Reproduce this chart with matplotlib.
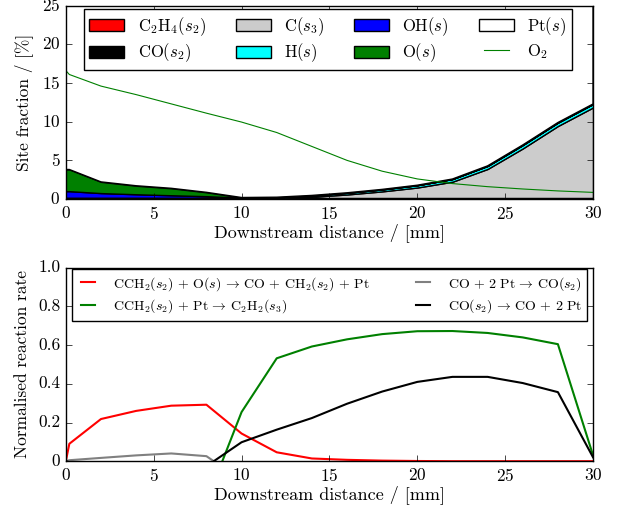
import numpy as np
import matplotlib
matplotlib.use('Agg')
from matplotlib import pyplot as plt
from matplotlib.patches import Patch
from matplotlib.lines import Line2D

plt.style.use('classic')
plt.rcParams['font.family'] = 'serif'
plt.rcParams['font.serif'] = ['cmr10', 'DejaVu Serif']
plt.rcParams['mathtext.fontset'] = 'cm'
plt.rcParams['axes.unicode_minus'] = False
plt.rcParams['axes.formatter.use_mathtext'] = True

# distance along the channel [mm]
dist = [0, 0.2, 2, 4, 6, 8, 10, 12, 14, 16, 18, 20, 22, 24, 26, 28, 30]

# surface coverages [%]
c2h4_s2 = [0.02] * 17
co_s2 = [0.15, 0.15, 0.15, 0.15, 0.15, 0.15, 0.12, 0.12, 0.12, 0.12, 0.12, 0.12, 0.12, 0.12, 0.12, 0.12, 0.12]
c_s3 = [0, 0, 0, 0, 0, 0, 0, 0.0, 0.15, 0.45, 0.85, 1.35, 2.1, 3.75, 6.4, 9.3, 11.7]
h_s = [0, 0, 0, 0, 0, 0, 0.02, 0.1, 0.18, 0.22, 0.26, 0.3, 0.35, 0.4, 0.45, 0.45, 0.45]
oh_s = [0.85, 0.85, 0.6, 0.45, 0.32, 0.2, 0.02, 0, 0, 0, 0, 0, 0, 0, 0, 0, 0]
o_s = [2.8, 2.8, 1.45, 1.1, 0.9, 0.5, 0.02, 0, 0, 0, 0, 0, 0, 0, 0, 0, 0]

# gas phase O2 [%]
o2 = [16.6, 16.1, 14.6, 13.5, 12.3, 11.1, 9.95, 8.6, 6.8, 5.0, 3.6, 2.6, 2.0, 1.6, 1.3, 1.05, 0.86]

# normalised reaction rates
r_ox = [0, 0.09, 0.218, 0.26, 0.287, 0.292, 0.143, 0.046, 0.014, 0.007, 0.003, 0.001, 0, 0, 0, 0, 0]
r_c2h2 = [0, -0.02, -0.08, -0.12, -0.16, -0.21, 0.254, 0.532, 0.593, 0.63, 0.657, 0.672, 0.673, 0.663, 0.64, 0.605, 0.03]
r_ads = [0, 0.005, 0.017, 0.03, 0.04, 0.026, -0.098, -0.163, -0.223, -0.297, -0.36, -0.41, -0.436, -0.436, -0.404, -0.357, -0.02]
r_des = [0, -0.005, -0.017, -0.03, -0.04, -0.026, 0.098, 0.163, 0.223, 0.297, 0.36, 0.41, 0.436, 0.436, 0.404, 0.357, 0.02]

layers = [c2h4_s2, co_s2, c_s3, h_s, oh_s, o_s]
pt_s = list(100 - np.sum(layers, axis=0))
layers.append(pt_s)
colors = ['red', 'black', '#cccccc', 'cyan', 'blue', 'green', 'white']
names = [r'$\mathrm{C_2H_4}(s_2)$', r'$\mathrm{CO}(s_2)$', r'$\mathrm{C}(s_3)$',
         r'$\mathrm{H}(s)$', r'$\mathrm{OH}(s)$', r'$\mathrm{O}(s)$', r'$\mathrm{Pt}(s)$']

fig = plt.figure(figsize=(6.21, 5.13), dpi=100, facecolor='white')
ax1 = fig.add_axes([0.106, 0.612, 0.849, 0.377])
ax2 = fig.add_axes([0.106, 0.101, 0.849, 0.377])

ax1.stackplot(dist, layers, colors=colors, edgecolor='black', linewidth=1)
ax1.plot(dist, o2, color='green', lw=0.8)
ax1.set_xlim(0, 30)
ax1.set_ylim(0, 25)
ax1.set_xticks(range(0, 31, 5))
ax1.set_yticks(range(0, 26, 5))
ax1.set_xlabel('Downstream distance / [mm]', fontsize=13, labelpad=1)
ax1.set_ylabel('Site fraction / [%]', fontsize=12.5, labelpad=6)
handles = [Patch(facecolor=c, edgecolor='black') for c in colors]
handles.append(Line2D([], [], color='green', lw=0.8))
ax1.legend(handles, names + [r'$\mathrm{O_2}$'], ncol=4, loc='upper center',
           fontsize=12, handlelength=2.1, handleheight=0.7, columnspacing=1.8,
           handletextpad=0.8, labelspacing=0.25, borderpad=0.35,
           borderaxespad=0.2, bbox_to_anchor=(0.497, 1.0))

ax2.plot(dist, r_ox, color='red', lw=1.5,
         label=r'$\mathrm{CCH_2}(s_2)\,+\,\mathrm{O}(s)\,\rightarrow\,\mathrm{CO}\,+\,\mathrm{CH_2}(s_2)\,+\,\mathrm{Pt}$')
ax2.plot(dist, r_c2h2, color='green', lw=1.5,
         label=r'$\mathrm{CCH_2}(s_2)\,+\,\mathrm{Pt}\,\rightarrow\,\mathrm{C_2H_2}(s_3)$')
ax2.plot(dist, r_ads, color='grey', lw=1.5,
         label=r'$\mathrm{CO}\,+\,2\ \mathrm{Pt}\,\rightarrow\,\mathrm{CO}(s_2)$')
ax2.plot(dist, r_des, color='black', lw=1.5,
         label=r'$\mathrm{CO}(s_2)\,\rightarrow\,\mathrm{CO}\,+\,2\ \mathrm{Pt}$')
ax2.set_xlim(0, 30)
ax2.set_ylim(0, 1.0)
ax2.set_xticks(range(0, 31, 5))
ax2.set_yticks([0, 0.2, 0.4, 0.6, 0.8, 1.0])
ax2.set_yticklabels(['0', '0.2', '0.4', '0.6', '0.8', '1.0'])
ax2.set_xlabel('Downstream distance / [mm]', fontsize=13, labelpad=1)
ax2.set_ylabel('Normalised reaction rate', fontsize=12.5, labelpad=6)
ax2.legend(ncol=2, loc='upper center', fontsize=10, handlelength=1.6,
           handletextpad=1.0, columnspacing=3.0, labelspacing=0.35,
           borderpad=0.4, borderaxespad=0.1, bbox_to_anchor=(0.5, 1.0))

for ax in (ax1, ax2):
    ax.tick_params(labelsize=12.5)

fig.savefig('out.png', dpi=100, facecolor='white')
